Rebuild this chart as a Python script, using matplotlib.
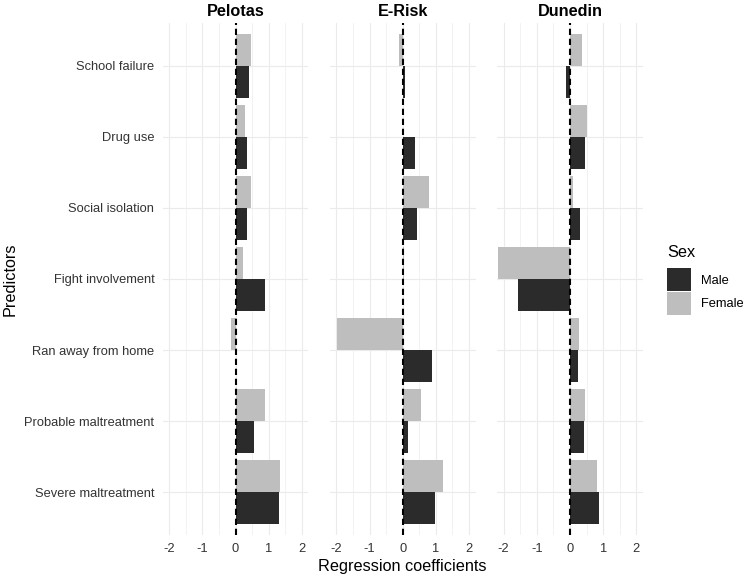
import matplotlib
matplotlib.use("Agg")
import matplotlib.pyplot as plt
from matplotlib.patches import Patch
import numpy as np

plt.rcParams['font.family'] = ['Liberation Sans', 'DejaVu Sans']
plt.rcParams['axes.unicode_minus'] = False

predictors = ["School failure", "Drug use", "Social isolation", "Fight involvement",
              "Ran away from home", "Probable maltreatment", "Severe maltreatment"]
cohorts = ["Pelotas", "E-Risk", "Dunedin"]

pelotas_male = [0.40, 0.34, 0.34, 0.89, 0.00, 0.55, 1.30]
pelotas_female = [0.46, 0.28, 0.46, 0.24, -0.13, 0.88, 1.35]
erisk_male = [0.07, 0.36, 0.44, 0.02, 0.87, 0.17, 0.98]
erisk_female = [-0.11, 0.02, 0.78, 0.05, -1.97, 0.55, 1.22]
dunedin_male = [-0.11, 0.46, 0.31, -1.58, 0.23, 0.41, 0.87]
dunedin_female = [0.35, 0.50, 0.10, -2.18, 0.27, 0.46, 0.82]

male_vals = [pelotas_male, erisk_male, dunedin_male]
female_vals = [pelotas_female, erisk_female, dunedin_female]

sexes = ["Male", "Female"]
male_color = "#2b2b2b"
female_color = "#bebebe"
grid_color = "#ebebeb"
text_color = "#333333"

W, H = 747, 579
fig = plt.figure(figsize=(W / 100, H / 100), dpi=100)

panel_x = [(162.7, 308.3), (329.7, 475.7), (497.0, 643.0)]
top_px, bottom_px = 23.0, 535.0

n = len(predictors)
ypos = np.arange(n)[::-1] + 1  # first category at top
bh = 0.45

axes = []
for i, (name, (x0, x1)) in enumerate(zip(cohorts, panel_x)):
    ax = fig.add_axes([x0 / W, (H - bottom_px) / H, (x1 - x0) / W, (bottom_px - top_px) / H])
    axes.append(ax)
    ax.set_xlim(-2.2, 2.2)
    ax.set_ylim(0.4, n + 0.6)
    ax.set_xticks([-2, -1, 0, 1, 2])
    ax.set_xticks([-1.5, -0.5, 0.5, 1.5], minor=True)
    ax.set_yticks(ypos)
    ax.grid(True, which='major', color=grid_color, linewidth=0.8, zorder=0)
    ax.grid(True, which='minor', axis='x', color=grid_color, linewidth=0.45, zorder=0)
    ax.set_axisbelow(True)
    for s in ax.spines.values():
        s.set_visible(False)
    ax.barh(ypos - bh / 2, male_vals[i], height=bh, color=male_color, zorder=2)
    ax.barh(ypos + bh / 2, female_vals[i], height=bh, color=female_color, zorder=2)
    ax.axvline(0, color='black', linestyle=(0, (3, 1.8)), linewidth=1.5, zorder=3)
    ax.tick_params(axis='both', which='both', length=0, labelsize=9.3, labelcolor=text_color)
    ax.tick_params(axis='x', pad=6)
    ax.tick_params(axis='y', pad=6)
    if i == 0:
        ax.set_yticklabels(predictors)
    else:
        ax.set_yticklabels([])
    ax.set_title(name, fontweight='bold', fontsize=11.7, pad=5, color='black')

fig.text(402.7 / W, 1 - 566 / H, "Regression coefficients", ha='center', va='center',
         fontsize=11.7, color='black')
fig.text(10 / W, 1 - 279 / H, "Predictors", ha='center', va='center', rotation=90,
         fontsize=11.7, color='black')

handles = [Patch(facecolor=male_color, edgecolor='none'),
           Patch(facecolor=female_color, edgecolor='none')]
leg = fig.legend(handles, sexes, title="Sex", loc='upper left',
                 bbox_to_anchor=(667 / W, 1 - 245 / H), frameon=False,
                 fontsize=9.3, title_fontsize=11.7, borderpad=0, borderaxespad=0,
                 handlelength=1.86, handleheight=2.35, labelspacing=0.05,
                 handletextpad=0.75, alignment='left')
leg._legend_box.sep = 6

fig.savefig("out.png", dpi=100)
